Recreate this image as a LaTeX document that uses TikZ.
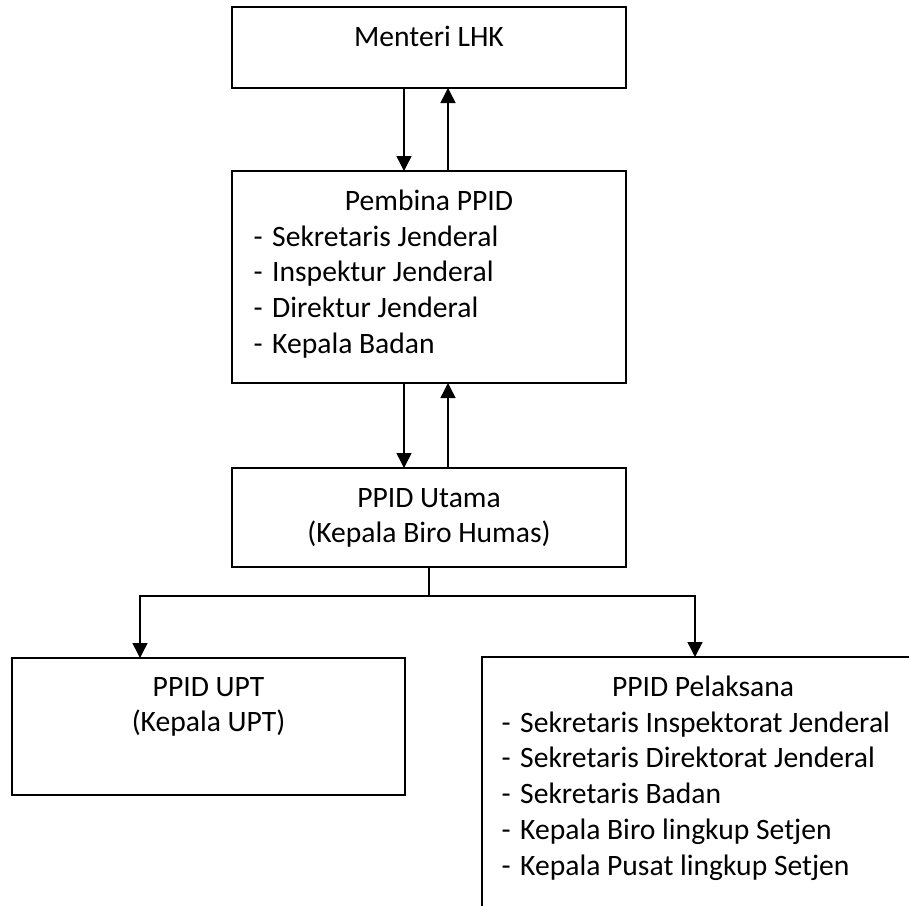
\documentclass[tikz,border=0pt]{standalone}
\usepackage{fontspec}
\setmainfont{Carlito}
\usetikzlibrary{arrows.meta,positioning}
\tikzset{>={Triangle[length=15pt,width=15pt]}}
\newcommand{\dashitem}[1]{\makebox[18.5pt][l]{-}#1}
\newcommand{\leftrows}[1]{\begin{tabular}[t]{@{}l@{}}#1\end{tabular}}
\newcommand{\centrows}[1]{\begin{tabular}[t]{@{}c@{}}#1\end{tabular}}

\begin{document}
\begin{tikzpicture}[x=1pt,y=-1pt,
    every node/.style={black,font=\fontsize{29.6pt}{35.8pt}\selectfont},
    box/.style={draw,line width=1.8pt,inner sep=0pt,outer sep=0pt,anchor=north west},
    txt/.style={inner sep=0pt,anchor=base},
    lst/.style={inner sep=0pt,anchor=base west},
    link/.style={->,line width=1.5pt}]
    \useasboundingbox (0,0) rectangle (909,905);
    \clip (0,0) rectangle (909,905);
    \node[box,minimum width=394pt,minimum height=81pt] (menteri) at (232,7) {};
    \node[box,minimum width=394pt,minimum height=212pt] (pembina) at (232,171) {};
    \node[box,minimum width=394pt,minimum height=99pt] (utama) at (232,468) {};
    \node[box,minimum width=393pt,minimum height=137pt] (upt) at (12,658) {};
    \node[box,minimum width=442pt,minimum height=260pt] (pelaksana) at (482,657) {};
    \node[txt] (mentertitle) at ([yshift=-39pt]menteri.north) {Menteri LHK};
    \node[txt] (pembinatitle) at ([yshift=-39pt]pembina.north) {Pembina PPID};
    \node[lst] (pembinalist) at ([shift={(21.5pt,-75pt)}]pembina.north west)
      {\leftrows{\dashitem{Sekretaris Jenderal}\\\dashitem{Inspektur Jenderal}\\
       \dashitem{Direktur Jenderal}\\\dashitem{Kepala Badan}}};
    \node[txt] (utamatitle) at ([yshift=-39pt]utama.north) {\centrows{PPID Utama\\(Kepala Biro Humas)}};
    \node[txt] (upttitle) at ([yshift=-38pt]upt.north) {\centrows{PPID UPT\\(Kepala UPT)}};
    \node[txt] (pelaksanatitle) at ([yshift=-39pt]pelaksana.north) {PPID Pelaksana};
    \node[lst] (pelaksanalist) at ([shift={(19.5pt,-75pt)}]pelaksana.north west)
      {\leftrows{\dashitem{Sekretaris Inspektorat Jenderal}\\\dashitem{Sekretaris Direktorat Jenderal}\\
       \dashitem{Sekretaris Badan}\\\dashitem{Kepala Biro lingkup Setjen}\\
       \dashitem{Kepala Pusat lingkup Setjen}}};
    \draw[link] ([xshift=-25pt]menteri.south) -- ([xshift=-25pt]pembina.north);
    \draw[link] ([xshift=19pt]pembina.north) -- ([xshift=19pt]menteri.south);
    \draw[link] ([xshift=-25pt]pembina.south) -- ([xshift=-25pt]utama.north);
    \draw[link] ([xshift=19pt]utama.north) -- ([xshift=19pt]pembina.south);
    \coordinate (split) at ([yshift=-29pt]utama.south);
    \draw[line width=1.5pt] (utama.south) -- (split);
    \draw[link] (split) -| ([xshift=-68.5pt]upt.north);
    \draw[link] (split) -| ([xshift=-8pt]pelaksana.north);
\end{tikzpicture}
\end{document}
